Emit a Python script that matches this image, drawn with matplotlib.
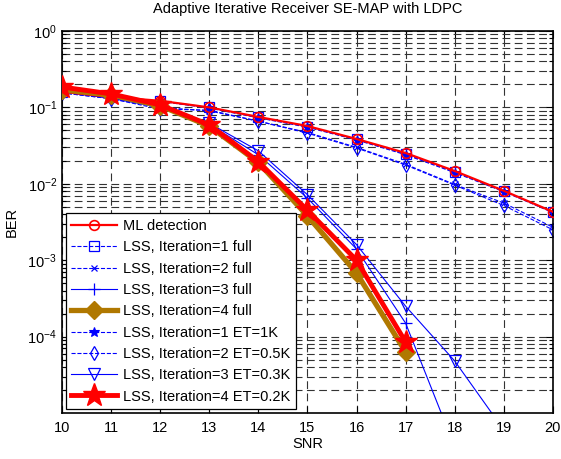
"""
Adaptive Iterative Receiver SE-MAP with LDPC -- BER vs SNR
"""
import numpy as np
import matplotlib
matplotlib.use("Agg")
import matplotlib.pyplot as plt
from matplotlib.ticker import LogLocator, NullFormatter, FixedLocator

plt.rcParams["font.family"] = ["Liberation Sans", "DejaVu Sans"]

snr = [10, 11, 12, 13, 14, 15, 16, 17, 18, 19, 20]

ml_detection = [0.160, 0.137, 0.122, 0.100, 0.075, 0.057, 0.0386, 0.0253, 0.0147, 0.0081, 0.0043]
it1_full     = [0.160, 0.136, 0.121, 0.100, 0.074, 0.056, 0.0380, 0.0245, 0.0143, 0.0080, 0.0043]
it2_full     = [0.155, 0.130, 0.100, 0.090, 0.066, 0.047, 0.0300, 0.0180, 0.0098, 0.0056, 0.0027]
it1_et       = [0.160, 0.136, 0.120, 0.098, 0.073, 0.055, 0.0375, 0.0240, 0.0140, 0.0079, 0.0042]
it2_et       = [0.155, 0.130, 0.095, 0.092, 0.066, 0.046, 0.0294, 0.0176, 0.0096, 0.0052, 0.0025]

snr_low = [10, 11, 12, 13, 14, 15, 16, 17, 18, 19]
it3_full = [0.160, 0.132, 0.100, 0.060, 0.024, 0.0065, 0.0014, 1.5e-4, 3.6e-6, np.nan]
it3_et   = [0.160, 0.132, 0.102, 0.062, 0.027, 0.0072, 0.0016, 2.5e-4, 4.8e-5, 6e-6]

snr_top = [10, 11, 12, 13, 14, 15, 16, 17]
it4_full = [0.170, 0.145, 0.105, 0.057, 0.0190, 0.0038, 6.8e-4, 6.3e-5]
it4_et   = [0.185, 0.150, 0.108, 0.059, 0.0195, 0.0045, 1.0e-3, 8.5e-5]

BLUE = "#0000FF"
BROWN = "#B07800"
FS = 10.5

fig = plt.figure(figsize=(5.61, 4.59), dpi=100)
ax = fig.add_axes([0.1105, 0.1002, 0.875, 0.8323])

ax.semilogy(snr, ml_detection, "-", color="red", lw=1.6, marker="o",
            ms=7, mfc="none", mew=1.2, label="ML detection", zorder=5)
ax.semilogy(snr, it1_full, "--", color=BLUE, lw=0.8, marker="s",
            ms=6.5, mfc="none", mew=0.9, label="LSS, Iteration=1 full")
ax.semilogy(snr, it2_full, "--", color=BLUE, lw=0.8, marker="x",
            ms=4, mew=0.9, label="LSS, Iteration=2 full")
ax.semilogy(snr_low, it3_full, "-", color=BLUE, lw=0.8, marker="+",
            ms=8, mew=0.9, label="LSS, Iteration=3 full")
ax.semilogy(snr_top, it4_full, "-", color=BROWN, lw=3.8, marker="D",
            ms=9, mfc=BROWN, mec=BROWN, label="LSS, Iteration=4 full", zorder=6)
ax.semilogy(snr, it1_et, "--", color=BLUE, lw=0.8, marker="*",
            ms=7, mew=0.8, label="LSS, Iteration=1 ET=1K")
ax.semilogy(snr, it2_et, "--", color=BLUE, lw=0.8, marker="d",
            ms=7, mfc="none", mew=0.9, label="LSS, Iteration=2 ET=0.5K")
ax.semilogy(snr_low, it3_et, "-", color=BLUE, lw=0.8, marker="v",
            ms=8, mfc="none", mew=0.9, label="LSS, Iteration=3 ET=0.3K")
ax.semilogy(snr_top, it4_et, "-", color="red", lw=3.5, marker="*",
            ms=17, mfc="red", mec="red", label="LSS, Iteration=4 ET=0.2K", zorder=7)

ax.set_xlim(10, 20)
ax.set_ylim(1e-5, 1)
ax.set_xticks(snr)
ax.yaxis.set_major_locator(FixedLocator([1e-4, 1e-3, 1e-2, 1e-1, 1e0]))
ax.yaxis.set_minor_locator(LogLocator(base=10, subs=np.arange(2, 10), numticks=20))
ax.yaxis.set_minor_formatter(NullFormatter())

grid_style = dict(color="0.2", linestyle=(0, (7, 4)), linewidth=0.8)
ax.grid(True, which="major", axis="both", **grid_style)
ax.grid(True, which="minor", axis="y", **grid_style)

ax.tick_params(which="both", direction="in", top=True, right=True,
               labelsize=FS, width=0.8)
ax.tick_params(which="major", length=5)
ax.tick_params(which="minor", length=3)
ax.tick_params(axis="x", pad=6)
for s in ax.spines.values():
    s.set_linewidth(1.2)

ax.set_title("Adaptive Iterative Receiver SE-MAP with LDPC", fontsize=FS, pad=13)
ax.set_xlabel("SNR", fontsize=FS, labelpad=1)
ax.set_ylabel("BER", fontsize=FS, labelpad=6)

leg = ax.legend(loc="lower left", fontsize=FS, frameon=True, fancybox=False,
                edgecolor="black", framealpha=1, handlelength=3.1,
                handletextpad=0.4, labelspacing=0.5, borderaxespad=0.25,
                borderpad=0.4)
leg.get_frame().set_linewidth(0.9)

plt.savefig("out.png", dpi=100)
plt.close()
